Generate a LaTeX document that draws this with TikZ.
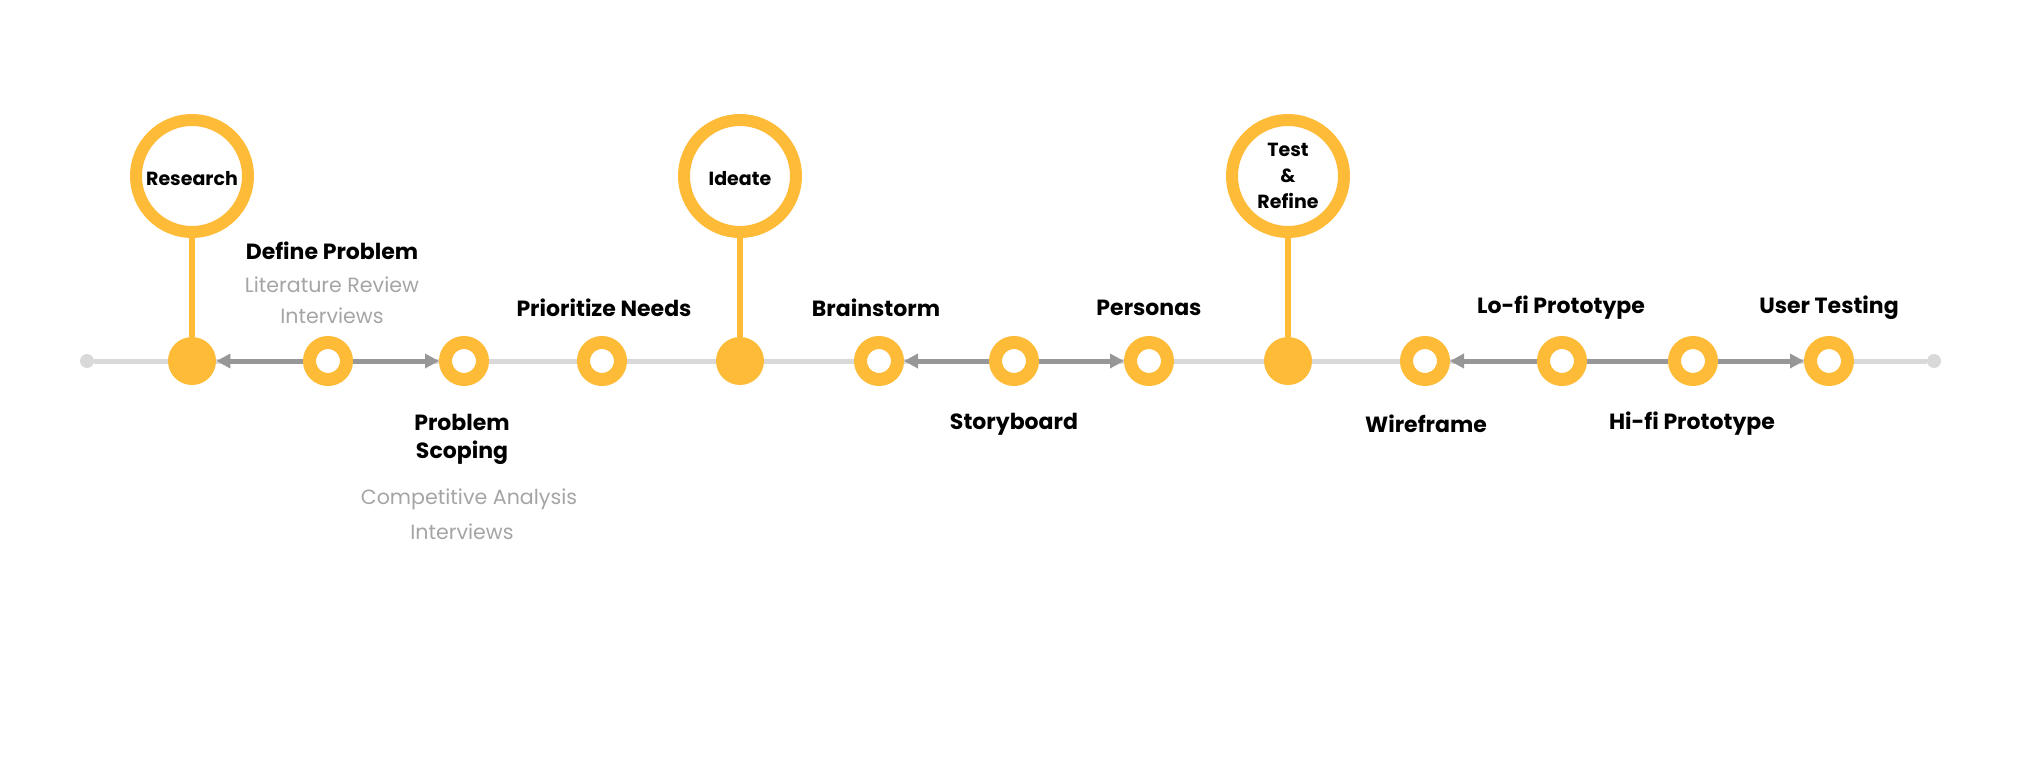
\documentclass[tikz,border=0pt]{standalone}
\usepackage{fontspec}
\setmainfont{Poppins}
\usetikzlibrary{arrows.meta}
\definecolor{ochre}{HTML}{FDBB38}
\definecolor{railgrey}{HTML}{D9D9D9}
\definecolor{flowgrey}{HTML}{979797}
\definecolor{notegrey}{HTML}{A5A5A5}
\tikzset{
  hub/.style={circle, fill=ochre, minimum size=24pt, inner sep=0pt},
  stepring/.style={circle, draw=ochre, line width=6.5pt, fill=white, minimum size=18.5pt, inner sep=0pt},
  phase/.style={circle, draw=ochre, line width=6pt, fill=white, minimum size=56pt, inner sep=0pt,
    font=\bfseries\fontsize{9.5}{13}\selectfont, align=center},
  oneline/.style={text height=9pt, text depth=0pt},
  railend/.style={circle, fill=railgrey, minimum size=7pt, inner sep=0pt},
  tag/.style={font=\bfseries\fontsize{11}{14}\selectfont, align=center},
  note/.style={text=notegrey, font=\fontsize{10.3}{15.5}\selectfont},
  flow/.style={draw=flowgrey, line width=2.5pt, -{Triangle[length=7pt,width=7pt]}},
}
\begin{document}
\begin{tikzpicture}[x=0.5pt, y=-0.5pt]
  \useasboundingbox (0,0) rectangle (2031,776);
  % timeline rail
  \node[railend] (west) at (87,361) {};
  \node[railend] (east) at (1934,361) {};
  \draw[railgrey, line width=2.5pt] (west) -- (east);
  % milestones on the rail
  \node[hub] (h1) at (192,361) {};
  \node[hub] (h2) at (740,361) {};
  \node[hub] (h3) at (1288,361) {};
  \node[stepring] (s1) at (328,361) {};
  \node[stepring] (s2) at (464,361) {};
  \node[stepring] (s3) at (602,361) {};
  \node[stepring] (s4) at (879,361) {};
  \node[stepring] (s5) at (1014,361) {};
  \node[stepring] (s6) at (1149,361) {};
  \node[stepring] (s7) at (1425,361) {};
  \node[stepring] (s8) at (1562,361) {};
  \node[stepring] (s9) at (1693,361) {};
  \node[stepring] (s10) at (1829,361) {};
  % phases
  \node[phase, oneline] (p1) at (192,176) {Research};
  \node[phase, oneline] (p2) at (740,176) {Ideate};
  \node[phase] (p3) at (1288,176) {Test\\\&\\Refine};
  \begin{scope}[ochre, line width=3pt]
    \draw (p1) -- (h1);
    \draw (p2) -- (h2);
    \draw (p3) -- (h3);
  \end{scope}
  % arrows between steps
  \begin{scope}[flow]
    \draw (s1) to (h1);
    \draw (s1) to (s2);
    \draw (s5) to (s4);
    \draw (s5) to (s6);
    \draw (s8) to (s7);
    \draw (s9) to (s10);
  \end{scope}
  \draw[flowgrey, line width=2.5pt] (s8) -- (s9);
  % labels
  \node[tag] (t1) at (332,251) {Define Problem};
  \node[note] (n1) at (332,285) {Literature Review};
  \node[note] (n2) at (332,316) {Interviews};
  \node[tag] (t2) at (462,439) {Problem\\Scoping};
  \node[note] (n3) at (469,499) {Competitive Analysis};
  \node[note] (n4) at (462,532) {Interviews};
  \node[tag] (t3) at (604,308) {Prioritize Needs};
  \node[tag] (t4) at (876,308) {Brainstorm};
  \node[tag] (t5) at (1014,424) {Storyboard};
  \node[tag] (t6) at (1149,308) {Personas};
  \node[tag] (t7) at (1426,424) {Wireframe};
  \node[tag] (t8) at (1561,308) {Lo-fi Prototype};
  \node[tag] (t9) at (1692,424) {Hi-fi Prototype};
  \node[tag] (t10) at (1829,308) {User Testing};
\end{tikzpicture}
\end{document}
